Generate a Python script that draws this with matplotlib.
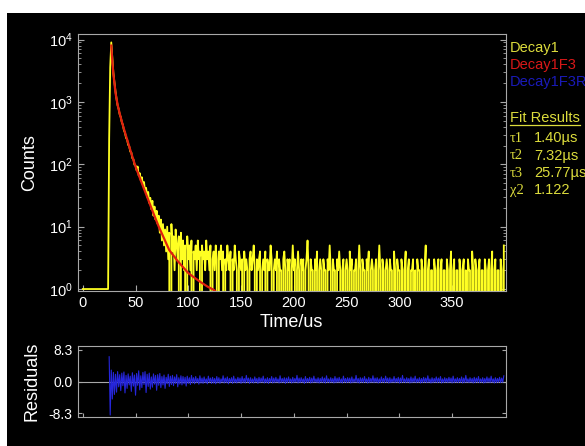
import numpy as np
import matplotlib
matplotlib.use('Agg')
import matplotlib.pyplot as plt
from matplotlib.patches import Rectangle
from matplotlib.lines import Line2D

plt.rcParams['font.family'] = ['Liberation Sans', 'DejaVu Sans']
plt.rcParams['mathtext.fontset'] = 'custom'
plt.rcParams['mathtext.rm'] = 'Liberation Sans'
plt.rcParams['mathtext.it'] = 'Liberation Sans'

# measured decay counts, one channel per microsecond (t = 0 .. 399)
t_counts = np.arange(0, 400)
pre_pulse = [1, 1, 1, 1, 1, 1, 1, 1, 1, 1, 1, 1, 1, 1, 1, 1, 1, 1, 1, 1, 1, 1, 1, 1, 1]
rise_decay = [260, 3600, 9000, 5100, 2900, 2050, 1480, 1120, 880, 770,
              630, 570, 470, 430, 350, 320, 265, 250, 205, 195,
              160, 155, 125, 120, 98]
mid_decay = [96, 80, 92, 66, 72, 55, 62, 46, 52, 38,
             42, 30, 36, 24, 29, 19, 26, 15, 21, 13,
             18, 11, 15, 8, 13, 6, 11, 5, 9, 4,
             10, 3, 8, 0, 11, 4, 7, 2, 9, 5,
             3, 7, 0, 8, 3, 6, 2, 5, 0, 7,
             3, 5, 2, 6, 0, 4, 3, 5, 2, 6,
             3, 4, 0, 5, 3, 4, 2, 6, 3, 4,
             2, 5, 0, 3, 4, 2, 5, 3, 0, 4,
             3, 5, 2, 4, 0, 3, 2, 5, 3, 2,
             4, 0, 3, 2, 5, 3, 2, 0, 4, 3]
tail = [2, 3, 0, 4, 2, 3, 2, 0, 3, 4,
        2, 3, 5, 2, 0, 3, 2, 3, 4, 0,
        2, 3, 2, 4, 0, 3, 2, 2, 5, 3,
        0, 2, 3, 2, 4, 0, 3, 2, 2, 0,
        3, 4, 2, 0, 3, 2, 3, 0, 2, 5,
        2, 3, 0, 2, 4, 2, 0, 3, 2, 3,
        0, 2, 3, 6, 2, 0, 3, 2, 2, 0,
        3, 2, 4, 0, 2, 3, 2, 0, 3, 2,
        2, 0, 3, 2, 5, 2, 0, 3, 2, 2,
        0, 3, 2, 4, 2, 0, 2, 3, 0, 2,
        3, 2, 0, 4, 2, 3, 0, 2, 2, 3,
        0, 2, 5, 2, 0, 3, 2, 2, 0, 3,
        2, 4, 0, 2, 3, 2, 0, 2, 3, 0,
        2, 5, 2, 0, 3, 2, 0, 2, 3, 2,
        0, 3, 2, 2, 0, 4, 2, 0, 3, 2,
        2, 0, 3, 2, 0, 2, 4, 0, 2, 3,
        0, 2, 2, 3, 0, 2, 0, 3, 2, 2,
        0, 3, 2, 0, 2, 5, 0, 2, 3, 0,
        2, 2, 0, 3, 2, 0, 2, 3, 0, 2,
        3, 0, 2, 2, 0, 3, 2, 0, 2, 4,
        0, 2, 3, 0, 2, 2, 0, 3, 2, 0,
        2, 3, 0, 2, 0, 3, 2, 2, 0, 4,
        2, 0, 3, 2, 0, 2, 3, 0, 2, 2,
        0, 3, 2, 0, 2, 3, 0, 2, 4, 0,
        2, 3, 0, 2, 2, 0, 3, 2, 0, 5]
counts = pre_pulse + rise_decay + mid_decay + tail

# three-exponential fit
fit_t = [27, 28, 29, 30, 31, 33, 35, 38, 42, 46, 50, 55, 61, 66, 72, 77, 82, 90, 100, 110, 118, 124, 130]
fit_counts = [8000, 4500, 2800, 2000, 1400, 900, 650, 420, 250, 150, 92, 55, 30, 18, 10, 6.5, 4.2,
              2.8, 1.8, 1.35, 1.1, 0.97, 0.8]

# weighted residuals, one per microsecond from t = 25
t_resid = np.arange(25, 400)
resid_early = [6.5, -8.8, 3.0, -4.6, 2.4, -3.4, 1.9, -2.8, 2.6, -1.4,
               1.8, -2.4, 2.2, -1.1, 2.5, -3.0, 1.6, -1.8, 2.0, -0.9,
               1.4, -2.6, 2.3, -1.2, 1.7, -3.6, 2.1, -1.0, 2.8, -2.2,
               1.5, -1.6, 2.4, -0.8, 2.6, -2.9, 1.9, -1.3, 2.2, -2.0,
               1.2, -1.5, 2.0, -0.7, 1.6, -2.3, 1.8, -1.0, 2.1, -1.6,
               1.3, -0.9, 1.7, -1.8, 1.1, -0.6, 1.9, -1.3, 1.4, -0.8,
               1.6, -1.1, 1.2, -0.5, 1.8, -1.4, 1.0, -0.7, 1.5, -0.9,
               1.3, -0.6, 1.1, -1.2, 1.4, -0.5, 1.0, -0.8, 1.6, -0.4]
resid_late = [1.0, -0.6, 1.3, -0.3, 0.8, -0.7, 1.5, -0.4, 0.9, -0.5,
              1.2, -0.3, 0.7, -0.6, 1.4, -0.2, 0.9, -0.5, 1.1, -0.4,
              0.8, -0.6, 1.3, -0.3, 1.0, -0.5, 0.7, -0.2, 1.5, -0.4,
              0.9, -0.3, 1.2, -0.6, 0.8, -0.2, 1.0, -0.5, 1.4, -0.3,
              0.7, -0.4, 1.1, -0.2, 0.9, -0.5, 1.3, -0.3, 0.8, -0.4,
              1.6, -0.2, 0.9, -0.5, 1.0, -0.3, 0.7, -0.4, 1.2, -0.2,
              0.8, -0.5, 1.1, -0.3, 0.9, -0.2, 1.4, -0.4, 0.7, -0.3,
              1.0, -0.5, 0.8, -0.2, 1.3, -0.4, 0.9, -0.3, 1.1, -0.2,
              0.7, -0.4, 1.5, -0.3, 0.8, -0.2, 1.0, -0.5, 0.9, -0.3,
              1.2, -0.2, 0.7, -0.4, 1.1, -0.3, 0.8, -0.2, 1.6, -0.4,
              0.9, -0.3, 1.0, -0.2, 0.7, -0.5, 1.3, -0.3, 0.8, -0.2,
              1.1, -0.4, 0.9, -0.3, 1.4, -0.2, 0.7, -0.3, 1.0, -0.4,
              0.8, -0.2, 1.2, -0.3, 0.9, -0.4, 1.5, -0.2, 0.7, -0.3,
              1.0, -0.2, 0.8, -0.4, 1.3, -0.3, 0.9, -0.2, 1.1, -0.3,
              0.7, -0.4, 1.4, -0.2, 0.8, -0.3, 1.0, -0.2, 0.9, -0.4,
              1.2, -0.3, 0.7, -0.2, 1.6, -0.3, 0.8, -0.4, 1.0, -0.2,
              0.9, -0.3, 1.3, -0.2, 0.7, -0.4, 1.1, -0.3, 0.8, -0.2,
              1.5, -0.3, 0.9, -0.2, 1.0, -0.4, 0.7, -0.3, 1.2, -0.2,
              0.8, -0.3, 1.4, -0.2, 0.9, -0.4, 1.0, -0.3, 0.7, -0.2,
              1.3, -0.3, 0.8, -0.2, 1.1, -0.4, 0.9, -0.3, 1.6, -0.2,
              0.7, -0.3, 1.0, -0.2, 0.8, -0.4, 1.2, -0.3, 0.9, -0.2,
              1.4, -0.3, 0.7, -0.2, 1.0, -0.4, 0.8, -0.3, 1.1, -0.2,
              0.9, -0.3, 1.5, -0.2, 0.7, -0.4, 1.0, -0.3, 0.8, -0.2,
              1.2, -0.3, 0.9, -0.2, 1.3, -0.4, 0.7, -0.3, 1.0, -0.2,
              0.8, -0.3, 1.1, -0.2, 0.9, -0.4, 1.4, -0.3, 0.7, -0.2,
              1.0, -0.3, 0.8, -0.2, 1.2, -0.4, 0.9, -0.3, 1.6, -0.2,
              0.7, -0.3, 1.0, -0.2, 0.8, -0.4, 1.1, -0.3, 0.9, -0.2,
              1.3, -0.3, 0.7, -0.2, 1.0, -0.4, 0.8, -0.3, 1.2, -0.2,
              0.9, -0.3, 1.4, -0.2, 0.7, -0.4, 1.0, -0.3, 0.8, -0.2,
              1.1, -0.3, 0.9, -0.2, 1.5]
residuals = resid_early + resid_late

legend_names = ['Decay1', 'Decay1F3', 'Decay1F3R']
fit_labels = ['τ1', 'τ2', 'τ3', 'χ2']
fit_values = ['1.40µs', '7.32µs', '25.77µs', '1.122']

W, H = 585, 446
fig = plt.figure(figsize=(W / 100, H / 100), dpi=100, facecolor='white')
fig.add_artist(Rectangle((7 / W, 0), 1, (H - 13) / H, transform=fig.transFigure,
                         facecolor='black', edgecolor='none', zorder=0))

yel = '#ffff22'
txt_yel = '#dcdc3c'
red = '#e0200e'
blue = '#2626dc'
grey = '#a8a8a8'


def style_axes(ax):
    ax.set_facecolor('black')
    for s in ax.spines.values():
        s.set_color(grey)
        s.set_linewidth(0.8)
    ax.tick_params(which='both', direction='in', colors=grey, labelcolor='white',
                   left=True, right=True, top=False, bottom=True)


ax_l, ax_r = 77.5, 505.7
ax = fig.add_axes([ax_l / W, (H - 291) / H, (ax_r - ax_l) / W, (291 - 33.5) / H])
style_axes(ax)
ax.plot(t_counts, counts, color=yel, lw=1.3, zorder=2)
ax.plot(fit_t, fit_counts, color=red, lw=1.6, zorder=3)
ax.set_yscale('log')
ax.set_xlim(-5, 400.8)
ax.set_ylim(0.93, 12500)
ax.set_xticks([0, 50, 100, 150, 200, 250, 300, 350])
ax.set_yticks([1, 10, 100, 1000, 10000])
ax.tick_params(which='major', length=4, labelsize=10.5)
ax.tick_params(which='minor', length=2)
ax.tick_params(axis='y', labelright=False)
ax.set_ylabel('Counts', color='white', fontsize=13, labelpad=8)
ax.set_xlabel('Time/us', color='white', fontsize=13, labelpad=3)

ar = fig.add_axes([ax_l / W, (H - 417.3) / H, (ax_r - ax_l) / W, (417.3 - 345.7) / H])
style_axes(ar)
ar.axhline(0, color=grey, lw=0.8, zorder=1)
ar.plot(t_resid, residuals, color=blue, lw=0.8, zorder=2)
ar.set_xlim(-5, 400.8)
ar.set_ylim(-9.4, 9.4)
ar.set_xticks([0, 50, 100, 150, 200, 250, 300, 350])
ar.set_xticklabels([])
ar.set_yticks([-8.3, 0, 8.3])
ar.set_yticklabels(['-8.3', '0.0', '8.3'])
ar.tick_params(which='major', length=3, labelsize=10)
ar.tick_params(axis='y', labelright=False)
ar.set_ylabel('Residuals', color='white', fontsize=13, labelpad=6)

# legend and fit results at the right
leg_colors = [txt_yel, '#d81818', '#1a1ab8']
for i, (name, c) in enumerate(zip(legend_names, leg_colors)):
    fig.text(510 / W, 1 - (48.3 + 16.7 * i) / H, name, color=c, fontsize=10.5, va='center')

fig.text(510 / W, 1 - 118.3 / H, 'Fit Results', color=txt_yel, fontsize=10.5, va='center')
fig.add_artist(Line2D([510 / W, 580 / W], [1 - 125 / H, 1 - 125 / H], color=txt_yel, lw=0.9))
for i, (lab, val) in enumerate(zip(fit_labels, fit_values)):
    y = 1 - (138.3 + 17.4 * i) / H
    fig.text(510 / W, y, lab, color=txt_yel, fontsize=10.5, va='center',
             family=['Liberation Serif', 'DejaVu Serif'])
    fig.text(534 / W, y, val, color=txt_yel, fontsize=10.5, va='center')

fig.savefig('out.png', dpi=100, facecolor='white')
